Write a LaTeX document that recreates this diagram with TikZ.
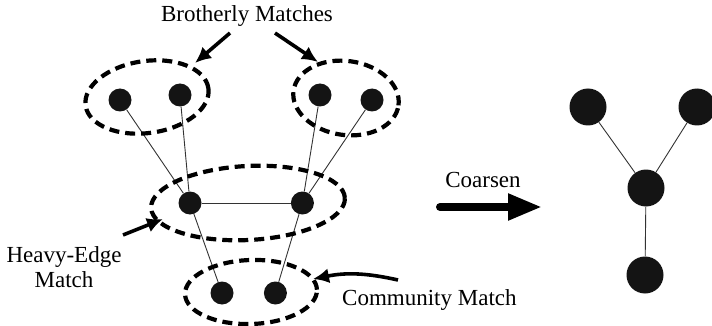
\documentclass[tikz,border=0pt]{standalone}
\usepackage{fontspec}
\setmainfont{Liberation Serif}
\usetikzlibrary{arrows.meta,positioning}

\begin{document}
\begin{tikzpicture}[x = 1pt, y = -1pt,
        vertex/.style = {circle, fill = black!92, minimum size = 23pt, inner sep = 0pt},
        bigvertex/.style = {vertex, minimum size = 37pt},
        link/.style = {draw = black!80, line width = 0.9pt},
        matchring/.style = {draw, line width = 4.2pt, dash pattern = on 10pt off 6pt},
        txt/.style = {font = \fontsize{23}{25}\selectfont, inner sep = 0pt},
        pointer/.style = {draw, line width = 3.6pt, -{Latex[length = 16pt, width = 15pt]}}]
        \useasboundingbox (0,0) rectangle (712,326);

        \node [vertex] (a1) at (120,100) {};
        \node [vertex] (a2) at (180,95) {};
        \node [vertex] (b1) at (320,95) {};
        \node [vertex] (b2) at (372,100) {};
        \node [vertex] (c1) at (190,203) {};
        \node [vertex] (c2) [right = 89pt of c1] {};
        \node [vertex] (d1) at (222,293) {};
        \node [vertex] (d2) [right = 30pt of d1] {};

        \path [link]
            (a1) edge (c1)
            (a2) edge (c1)
            (b1) edge (c2)
            (b2) edge (c2)
            (c1) edge (c2)
                 edge (d1)
            (c2) edge (d2);

        \draw [matchring] (147,97) ellipse [x radius = 62pt, y radius = 36pt, rotate = 8];
        \draw [matchring] (346,98) ellipse [x radius = 53pt, y radius = 37pt, rotate = -8];
        \draw [matchring] (248,203) ellipse [x radius = 97pt, y radius = 37pt, rotate = 3];
        \draw [matchring] (251,292) ellipse [x radius = 66pt, y radius = 32pt, rotate = 2];

        \node [txt, anchor = base] (brother) at (247,22) {Brotherly Matches};
        \node [txt, anchor = north, align = center] (heavy) at (64,246) {Heavy-Edge\\Match};
        \node [txt, anchor = base west] (community) at (342,305) {Community Match};
        \node [txt, anchor = base] (coarsen) at (483,187) {Coarsen};

        \coordinate (bl tail) at (230,33);
        \coordinate (bl tip) at (195,63);
        \coordinate (br tail) at (275,33);
        \coordinate (br tip) at (318,62);
        \coordinate (he tail) at (123,235);
        \coordinate (he tip) at (163,219);
        \coordinate (cm tail) at (398,280);
        \coordinate (cm tip) at (313,279);
        \coordinate (co tail) at (440,207);
        \coordinate (co tip) at (542,207);

        \draw [pointer] (bl tail) -- (bl tip);
        \draw [pointer] (br tail) -- (br tip);
        \draw [pointer] (he tail) -- (he tip);
        \draw [pointer] (cm tail) to [bend right = 12] (cm tip);
        \draw [line width = 8pt, line cap = round, -{Triangle[length = 34pt, width = 25pt]}] (co tail) -- (co tip);

        \node [bigvertex] (r1) at (588,107) {};
        \node [bigvertex] (r2) at (697,107) {};
        \node [bigvertex] (r3) at (646,188) {};
        \node [bigvertex] (r4) at (645,275) {};

        \path [link]
            (r1) edge (r3)
            (r2) edge (r3)
            (r3) edge (r4);
\end{tikzpicture}
\end{document}
